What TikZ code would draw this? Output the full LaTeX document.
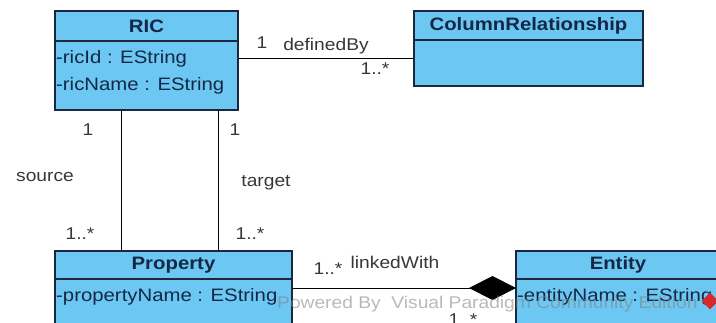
\documentclass[tikz,border=0pt]{standalone}
\usepackage{fontspec}
\setmainfont{Liberation Sans}[FakeStretch=1.13]
\usetikzlibrary{arrows.meta,shapes.geometric}
\definecolor{classfill}{RGB}{108,200,242}
\definecolor{classline}{RGB}{25,40,60}
\definecolor{classtext}{RGB}{20,40,70}
\definecolor{labeltext}{RGB}{55,55,55}
\definecolor{vpred}{RGB}{215,40,50}
\begin{document}
\begin{tikzpicture}[x=1pt,y=-1pt,
    classbox/.style={draw=classline,fill=classfill,line width=1.3pt,
      inner sep=0pt,outer sep=0pt,anchor=north west},
    classhead/.style={classbox,font=\fontsize{18}{20}\selectfont\bfseries,
      text=classtext},
    attr/.style={anchor=west,inner sep=1pt,
      font=\fontsize{18}{20}\selectfont,text=classtext},
    role/.style={font=\fontsize{17}{19}\selectfont,text=labeltext,inner sep=0pt},
    assoc/.style={draw=black,line width=1pt}]
  \clip (0,0) rectangle (716,322);
  \useasboundingbox (0,0) rectangle (716,322);
  % classes
  \node[classhead,minimum width=183pt,minimum height=30pt] (ric) at (55,11) {RIC};
  \node[classbox,minimum width=183pt,minimum height=69pt] (ricbody) at (ric.south west) {};
  \node[attr] (ricid) at (55,59) {-ricId : EString};
  \node[attr] (ricname) at (55,86) {-ricName : EString};

  \node[classhead,minimum width=229pt,minimum height=29pt] (colrel) at (414,11) {ColumnRelationship};
  \node[classbox,minimum width=229pt,minimum height=46pt] (colbody) at (colrel.south west) {};

  \node[classhead,minimum width=237pt,minimum height=28pt] (prop) at (55,251) {Property};
  \node[classbox,minimum width=237pt,minimum height=60pt] (propbody) at (prop.south west) {};
  \node[attr] (propname) at (55,297) {-propertyName : EString};

  \node[classhead,minimum width=204pt,minimum height=28pt] (entity) at (516,251) {Entity};
  \node[classbox,minimum width=204pt,minimum height=60pt] (entbody) at (entity.south west) {};
  \node[attr] (entname) at (516,297) {-entityName : EString};

  % associations
  \draw[assoc] ([yshift=-17pt]ricbody.north east) -- ([yshift=-18pt]colbody.north west);
  \draw[assoc] ([xshift=66pt]ricbody.south west) -- ([xshift=66pt]prop.north west);
  \draw[assoc] ([xshift=163pt]ricbody.south west) -- ([xshift=163pt]prop.north west);
  \draw[assoc,-{Diamond[length=47pt,width=24pt,fill=black]}]
    ([yshift=-9pt]propbody.north east) -- ([yshift=-9pt]entbody.north west);

  % roles and multiplicities
  \node[role] (m1) at (262,43) {1};
  \node[role] (defby) at (326,46) {definedBy};
  \node[role] (m2) at (375,69) {1..*};
  \node[role] (m3) at (88,130) {1};
  \node[role] (m4) at (235,130) {1};
  \node[role] (src) at (45,177) {source};
  \node[role] (tgt) at (266,183) {target};
  \node[role] (m5) at (80,234) {1..*};
  \node[role] (m6) at (250,234) {1..*};
  \node[role] (m7) at (328,269) {1..*};
  \node[role] (lnk) at (395,262) {linkedWith};
  \node[role] (m8) at (463,320) {1..*};

  % watermark
  \node[anchor=west,inner sep=0pt,font=\fontsize{17}{19}\selectfont,
    text=gray,opacity=0.55] (wm) at (277,304) {Powered By\ \ Visual Paradigm Community Edition};
  \node[diamond,fill=vpred,minimum size=17pt,inner sep=0pt] (vplogo) at (710,301) {};
\end{tikzpicture}
\end{document}
